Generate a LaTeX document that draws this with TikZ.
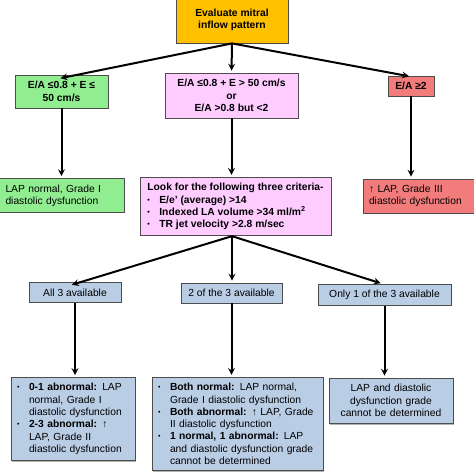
\documentclass[tikz,border=0pt]{standalone}
\usepackage{fontspec}
\setmainfont{Liberation Sans}
\usepackage{tikz}
\usetikzlibrary{arrows,shadows}
\definecolor{evalorange}{RGB}{255,192,0}
\definecolor{lapgreen}{RGB}{144,238,144}
\definecolor{lappink}{RGB}{255,204,255}
\definecolor{lapred}{RGB}{242,124,124}
\definecolor{lapblue}{RGB}{185,205,229}
\tikzstyle{arrow} = [line width=2pt,->,>=stealth,shorten >=2pt]
\tikzstyle{box} = [draw=black!70,line width=0.8pt,inner sep=6pt,font=\fontsize{10.3}{12.3}\selectfont]
\tikzstyle{gbox} = [box,fill=lapgreen]
\tikzstyle{pbox} = [box,fill=lappink]
\tikzstyle{rbox} = [box,fill=lapred]
\tikzstyle{bbox} = [box,fill=lapblue]
\tikzstyle{shade} = [drop shadow={shadow xshift=1pt,shadow yshift=-1.5pt,fill=black!60}]
\newcommand{\bl}{\makebox[12pt][l]{\scriptsize\raisebox{1pt}{•}}}
\newcommand{\ind}{\hspace*{12pt}}

\begin{document}
\begin{tikzpicture}[x=1pt,y=-1pt]
\useasboundingbox (0,0) rectangle (474,475);

% first level
\node[box,fill=evalorange,font=\bfseries\fontsize{10.3}{12.3}\selectfont,align=center,minimum width=112pt,minimum height=46pt] (eval) at (232,20) {Evaluate mitral\\inflow pattern};

\node[gbox,font=\bfseries\fontsize{10.3}{12.3}\selectfont,align=center,minimum width=93pt,minimum height=33pt] (ea1) at (61.5,91.5) {E/A ≤0.8 + E ≤\\50 cm/s};
\node[pbox,font=\bfseries\fontsize{10.3}{12.3}\selectfont,align=center,minimum width=133pt,minimum height=45pt] (ea2) at (231.5,95.5) {E/A ≤0.8 + E > 50 cm/s\\or\\E/A >0.8 but <2};
\node[rbox,font=\bfseries\fontsize{10.3}{12.3}\selectfont,align=center,minimum width=46pt,minimum height=20pt] (ea3) at (411,86) {E/A ≥2};

% second level
\node[gbox,align=left,text width=113pt,minimum height=33pt] (grade1) at (62,195.5) {LAP normal, Grade I\\diastolic dysfunction};
\node[pbox,font=\bfseries\fontsize{10.3}{12.3}\selectfont,align=left,minimum width=191pt,minimum height=57pt] (crit) at (235.5,206.5) {Look for the following three criteria-\\
\bl E/e' (average) >14\\
\bl Indexed LA volume >34 ml/m\textsuperscript{2}\\
\bl TR jet velocity >2.8 m/sec};
\node[rbox,align=left,text width=122pt,minimum height=32pt] (grade3) at (430,196) {↑ LAP, Grade III\\diastolic dysfunction};

% availability
\node[bbox,align=center,minimum width=92pt,minimum height=19pt] (all3) at (75,292.5) {All 3 available};
\node[bbox,align=center,minimum width=101pt,minimum height=20pt] (two3) at (231.5,293) {2 of the 3 available};
\node[bbox,align=center,minimum width=133pt,minimum height=20pt] (one3) at (384.5,295) {Only 1 of the 3 available};

% results
\node[bbox,shade,align=left,text width=112pt,minimum height=82pt] (res1) at (73,419) {\bl\textbf{0-1 abnormal:} LAP\\
\ind normal, Grade I\\
\ind diastolic dysfunction\\
\bl\textbf{2-3 abnormal:} ↑\\
\ind LAP, Grade II\\
\ind diastolic dysfunction};
\node[bbox,shade,align=left,text width=159pt,minimum height=92pt] (res2) at (237.5,424) {\bl\textbf{Both normal:} LAP normal,\\
\ind Grade I diastolic dysfunction\\
\bl\textbf{Both abnormal:} ↑ LAP, Grade\\
\ind II diastolic dysfunction\\
\bl\textbf{1 normal, 1 abnormal:} LAP\\
\ind and diastolic dysfunction grade\\
\ind cannot be determined};
\node[bbox,shade,align=center,text width=112pt,minimum height=45pt] (res3) at (391,400.5) {LAP and diastolic\\dysfunction grade\\cannot be determined};

% connectors
\coordinate (fork) at (crit.south -| eval.south);
\draw[arrow] (eval.south) -- ([xshift=-3pt,yshift=-4pt]ea1.north);
\draw[arrow] (eval.south) -- (ea2.north);
\draw[arrow] (eval.south) -- ([yshift=-1pt]ea3.north);
\draw[arrow] (ea1.south) -- (ea1.south |- grade1.north);
\draw[arrow] (ea2.south) -- (ea2.south |- crit.north);
\draw[arrow] (ea3.south) -- (ea3.south |- grade3.north);
\draw[arrow] (fork) -- ([xshift=-5pt,yshift=-3pt]all3.north);
\draw[arrow] (fork) -- (fork |- two3.north);
\draw[arrow] (fork) -- ([xshift=-2pt]one3.north);
\draw[arrow] (all3.south) -- (all3.south |- res1.north);
\draw[arrow] (two3.south) -- (two3.south |- res2.north);
\draw[arrow] (one3.south) -- (one3.south |- res3.north);
\end{tikzpicture}
\end{document}
